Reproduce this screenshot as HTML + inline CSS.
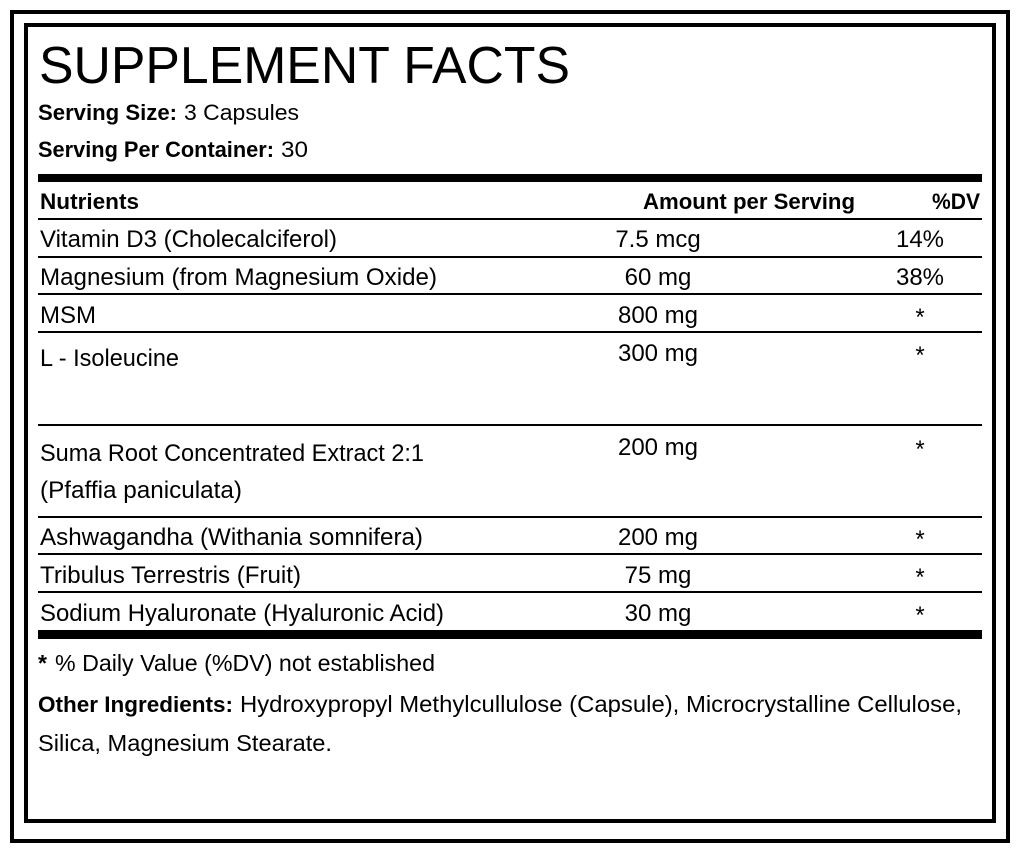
<!DOCTYPE html>
<html>
<head>
<meta charset="utf-8">
<style>
  html,body{margin:0;padding:0;background:#fff;}
  svg{display:block;}
  text{font-family:"Liberation Sans",Arial,sans-serif;fill:#000;}
  .b{font-weight:bold;}
</style>
</head>
<body>
<svg width="1020" height="854" viewBox="0 0 1020 854" xmlns="http://www.w3.org/2000/svg">
  <rect x="0" y="0" width="1020" height="854" fill="#fff"/>
  <!-- borders -->
  <rect x="12" y="12" width="996" height="829" fill="none" stroke="#000" stroke-width="4"/>
  <rect x="26" y="25" width="968" height="796" fill="none" stroke="#000" stroke-width="4"/>

  <!-- title -->
  <text x="39" y="83" font-size="52" textLength="531" lengthAdjust="spacingAndGlyphs">SUPPLEMENT FACTS</text>

  <!-- serving -->
  <text x="38" y="120" font-size="22" class="b" textLength="139" lengthAdjust="spacingAndGlyphs">Serving Size:</text>
  <text x="184" y="120" font-size="22" textLength="115" lengthAdjust="spacingAndGlyphs">3 Capsules</text>
  <text x="38" y="157" font-size="22" class="b" textLength="236" lengthAdjust="spacingAndGlyphs">Serving Per Container:</text>
  <text x="281" y="157" font-size="22" textLength="27" lengthAdjust="spacingAndGlyphs">30</text>

  <!-- lines -->
  <rect x="38" y="174" width="944" height="8" fill="#000"/>
  <rect x="38" y="218" width="944" height="2" fill="#000"/>
  <rect x="38" y="256" width="944" height="2" fill="#000"/>
  <rect x="38" y="293" width="944" height="2" fill="#000"/>
  <rect x="38" y="331" width="944" height="2" fill="#000"/>
  <rect x="38" y="424" width="944" height="2" fill="#000"/>
  <rect x="38" y="516" width="944" height="2" fill="#000"/>
  <rect x="38" y="553" width="944" height="2" fill="#000"/>
  <rect x="38" y="591" width="944" height="2" fill="#000"/>
  <rect x="38" y="630" width="944" height="9" fill="#000"/>

  <!-- header -->
  <text x="40" y="209" font-size="22" class="b" textLength="99" lengthAdjust="spacingAndGlyphs">Nutrients</text>
  <text x="643" y="209" font-size="22" class="b" textLength="212" lengthAdjust="spacingAndGlyphs">Amount per Serving</text>
  <text x="932" y="209" font-size="22" class="b" textLength="48" lengthAdjust="spacingAndGlyphs">%DV</text>

  <!-- rows left -->
  <g font-size="24">
    <text x="40" y="247" textLength="297" lengthAdjust="spacingAndGlyphs">Vitamin D3 (Cholecalciferol)</text>
    <text x="40" y="285" textLength="397" lengthAdjust="spacingAndGlyphs">Magnesium (from Magnesium Oxide)</text>
    <text x="40" y="323">MSM</text>
    <text x="40" y="366" textLength="139" lengthAdjust="spacingAndGlyphs">L - Isoleucine</text>
    <text x="40" y="461" textLength="384" lengthAdjust="spacingAndGlyphs">Suma Root Concentrated Extract 2:1</text>
    <text x="40" y="498" textLength="202" lengthAdjust="spacingAndGlyphs">(Pfaffia paniculata)</text>
    <text x="40" y="545" textLength="383" lengthAdjust="spacingAndGlyphs">Ashwagandha (Withania somnifera)</text>
    <text x="40" y="583" textLength="261" lengthAdjust="spacingAndGlyphs">Tribulus Terrestris (Fruit)</text>
    <text x="40" y="621" textLength="404" lengthAdjust="spacingAndGlyphs">Sodium Hyaluronate (Hyaluronic Acid)</text>
  </g>

  <!-- rows amounts -->
  <g font-size="24" text-anchor="middle">
    <text x="658" y="247">7.5 mcg</text>
    <text x="658" y="285">60 mg</text>
    <text x="658" y="323">800 mg</text>
    <text x="658" y="361">300 mg</text>
    <text x="658" y="455">200 mg</text>
    <text x="658" y="545">200 mg</text>
    <text x="658" y="583">75 mg</text>
    <text x="658" y="621">30 mg</text>
  </g>

  <!-- rows DV -->
  <g font-size="24" text-anchor="middle">
    <text x="920" y="247">14%</text>
    <text x="920" y="285">38%</text>
    <text x="920" y="325">*</text>
    <text x="920" y="363">*</text>
    <text x="920" y="457">*</text>
    <text x="920" y="547">*</text>
    <text x="920" y="585">*</text>
    <text x="920" y="623">*</text>
  </g>

  <!-- footer -->
  <text x="38" y="671" font-size="23" class="b">*</text>
  <text x="55" y="671" font-size="23" textLength="380" lengthAdjust="spacingAndGlyphs">% Daily Value (%DV) not established</text>
  <text x="38" y="712" font-size="22" class="b" textLength="195" lengthAdjust="spacingAndGlyphs">Other Ingredients:</text>
  <text x="240" y="712" font-size="23" textLength="722" lengthAdjust="spacingAndGlyphs">Hydroxypropyl Methylcullulose (Capsule), Microcrystalline Cellulose,</text>
  <text x="38" y="751" font-size="23" textLength="294" lengthAdjust="spacingAndGlyphs">Silica, Magnesium Stearate.</text>
</svg>
</body>
</html>
